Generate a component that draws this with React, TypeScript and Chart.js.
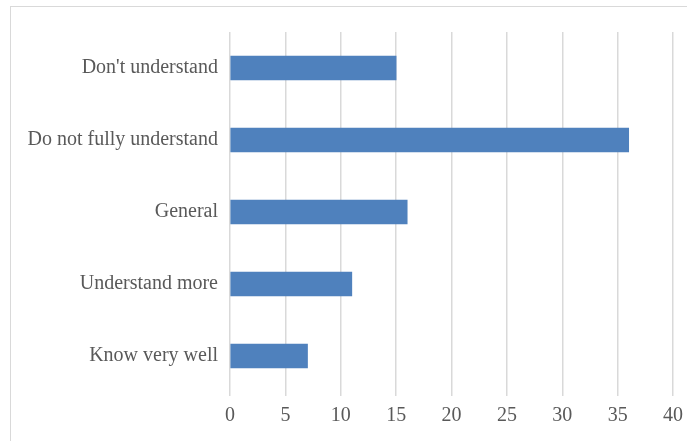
import React, { useEffect, useRef } from "react";
import { Chart, registerables } from "chart.js";

Chart.register(...registerables);

const categories = [
  "Don't understand",
  "Do not fully understand",
  "General",
  "Understand more",
  "Know very well",
];
const values = [15, 36, 16, 11, 7];
const xMin = 0;
const xMax = 40;
const xStep = 5;

export default function App() {
  const ref = useRef<HTMLCanvasElement | null>(null);

  useEffect(() => {
    if (!ref.current) return;
    const font = { family: "'Liberation Serif', 'Times New Roman', serif", size: 20 };
    const chart = new Chart(ref.current, {
      type: "bar",
      data: {
        labels: categories,
        datasets: [
          {
            data: values,
            backgroundColor: "#4f81bd",
            borderWidth: 0,
            barThickness: 24,
          },
        ],
      },
      options: {
        indexAxis: "y",
        animation: false,
        responsive: false,
        maintainAspectRatio: false,
        layout: { padding: { top: 32, right: 14, left: 0, bottom: 0 } },
        plugins: { legend: { display: false }, tooltip: { enabled: false } },
        scales: {
          x: {
            min: xMin,
            max: xMax,
            ticks: { stepSize: xStep, font, color: "#595959", padding: 8 },
            grid: { color: "#d9d9d9", lineWidth: 1.5, tickLength: 4 },
            border: { display: false },
            afterFit: (s: any) => {
              s.height = 49;
              s.paddingRight = 0;
              s.paddingLeft = 0;
            },
          },
          y: {
            ticks: { font, color: "#595959", padding: 4 },
            grid: { display: false },
            border: { display: false },
            afterFit: (s: any) => {
              s.width = 230;
              s.paddingTop = 0;
              s.paddingBottom = 0;
            },
          },
        },
      },
    });
    return () => chart.destroy();
  }, []);

  return (
    <div
      style={{
        position: "fixed",
        left: 0,
        top: 0,
        width: 687,
        height: 441,
        overflow: "hidden",
        background: "#fff",
      }}
    >
      <div
        style={{
          position: "absolute",
          left: 10,
          top: 6,
          width: 720,
          height: 480,
          border: "1.5px solid #d9d9d9",
          boxSizing: "border-box",
        }}
      />
      <canvas
        ref={ref}
        width={687}
        height={441}
        style={{ position: "absolute", left: 0, top: 0, width: 687, height: 441 }}
      />
    </div>
  );
}
